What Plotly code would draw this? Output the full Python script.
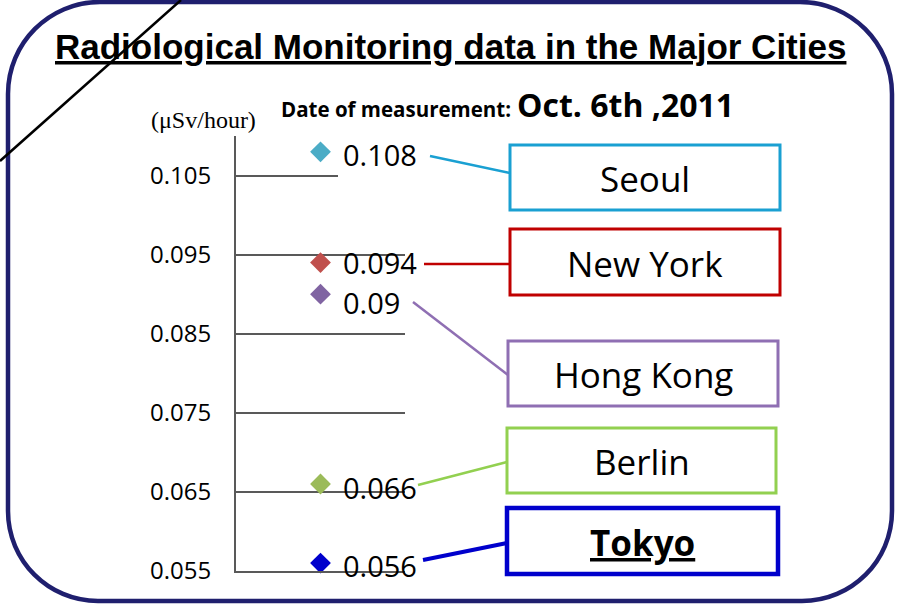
import plotly.graph_objects as go

# data
cities = ["Seoul", "New York", "Hong Kong", "Berlin", "Tokyo"]
dose_rates = [0.108, 0.094, 0.09, 0.066, 0.056]
value_labels = ["0.108", "0.094", "0.09", "0.066", "0.056"]
tick_vals = [0.055, 0.065, 0.075, 0.085, 0.095, 0.105]
tick_text = ["0.055", "0.065", "0.075", "0.085", "0.095", "0.105"]

marker_colors = ["#4BACC6", "#C0504D", "#8064A2", "#9BBB59", "#0000CC"]
box_colors = ["#1AA0D2", "#C00000", "#8F6FB3", "#92D050", "#0000CC"]

W, H = 899, 604
L, T, PW, PH = 236, 136, 169, 435


def px(x):
    return (x - L) / PW


def py(y):
    return (T + PH - y) / PH


fig = go.Figure()

fig.add_trace(go.Scatter(
    x=[1] * len(cities),
    y=dose_rates,
    mode="markers",
    marker=dict(symbol="diamond", size=16, color=marker_colors),
    cliponaxis=False,
    showlegend=False,
    hoverinfo="skip",
))

shapes = []
annotations = []

# value labels next to markers
label_yshift = [-3, 0, -8, -3, -2]
for v, lab, ys in zip(dose_rates, value_labels, label_yshift):
    annotations.append(dict(
        x=1, y=v, xref="x", yref="y", text=lab, showarrow=False,
        xanchor="left", yanchor="middle", xshift=20, yshift=ys,
        font=dict(family="Open Sans", size=29, color="black"),
    ))

# city boxes + connectors (pixel layout)
boxes = [(510, 145, 780, 210), (510, 229, 780, 295), (508, 341, 778, 406),
         (507, 428, 776, 493), (507, 508, 778, 574)]
connectors = [(430, 156, 510, 173), (424, 264, 510, 264), (413, 302, 508, 375),
              (418, 485, 507, 462), (423, 560, 507, 543)]
for i, city in enumerate(cities):
    x0, y0, x1, y1 = boxes[i]
    lw = 4.5 if city == "Tokyo" else 3
    shapes.append(dict(type="rect", xref="paper", yref="paper",
                       x0=px(x0), x1=px(x1), y0=py(y1), y1=py(y0),
                       line=dict(color=box_colors[i], width=lw), fillcolor="white"))
    cx0, cy0, cx1, cy1 = connectors[i]
    shapes.append(dict(type="line", xref="paper", yref="paper",
                       x0=px(cx0), y0=py(cy0), x1=px(cx1), y1=py(cy1),
                       line=dict(color=box_colors[i], width=4 if city == "Tokyo" else 2.5)))
    txt = "<b><u>%s</u></b>" % city if city == "Tokyo" else city
    annotations.append(dict(
        x=px((x0 + x1) / 2), y=py((y0 + y1) / 2 + 1), xref="paper", yref="paper",
        text=txt, showarrow=False, xanchor="center", yanchor="middle",
        font=dict(family="Open Sans", size=35, color="black"),
    ))

# gap in the top grid line
shapes.append(dict(type="rect", xref="paper", yref="y", layer="above",
                   x0=px(338), x1=px(408), y0=0.1045, y1=0.1055,
                   line=dict(width=0), fillcolor="white"))


# rounded outer frame
def corner_path():
    k = 0.5523
    l, t, r, b = 8, 2, 892, 601
    rt, rb = 92, 90
    pts = [
        ("M", [(l + rt, t)]),
        ("L", [(r - rt, t)]),
        ("C", [(r - rt + rt * k, t), (r, t + rt - rt * k), (r, t + rt)]),
        ("L", [(r, b - rb)]),
        ("C", [(r, b - rb + rb * k), (r - rb + rb * k, b), (r - rb, b)]),
        ("L", [(l + rb, b)]),
        ("C", [(l + rb - rb * k, b), (l, b - rb + rb * k), (l, b - rb)]),
        ("L", [(l, t + rt)]),
        ("C", [(l, t + rt - rt * k), (l + rt - rt * k, t), (l + rt, t)]),
    ]
    s = ""
    for cmd, ps in pts:
        s += cmd + " " + " ".join("%.5f,%.5f" % (px(a), py(b_)) for a, b_ in ps) + " "
    return s + "Z"


shapes.append(dict(type="path", xref="paper", yref="paper", path=corner_path(),
                   line=dict(color="#1F1F6E", width=4.5), layer="above"))

# stray diagonal line
shapes.append(dict(type="line", xref="paper", yref="paper", layer="above",
                   x0=px(0), y0=py(161), x1=px(181), y1=py(0),
                   line=dict(color="black", width=2.5)))

annotations += [
    dict(x=px(450), y=py(47), xref="paper", yref="paper",
         text="<b><u>Radiological Monitoring data in the Major Cities</u></b>",
         showarrow=False, xanchor="center", yanchor="middle",
         font=dict(family="Liberation Sans", size=35, color="black")),
    dict(x=px(279), y=py(109), xref="paper", yref="paper",
         text="<b>Date of measurement:</b>", showarrow=False,
         xanchor="left", yanchor="middle",
         font=dict(family="Open Sans", size=20.5, color="black")),
    dict(x=px(515), y=py(105), xref="paper", yref="paper",
         text="<b>Oct. 6th ,2011</b>", showarrow=False,
         xanchor="left", yanchor="middle",
         font=dict(family="Open Sans", size=32, color="black")),
    dict(x=px(203), y=py(120), xref="paper", yref="paper",
         text="(μSv/hour)", showarrow=False,
         xanchor="center", yanchor="middle",
         font=dict(family="Liberation Serif", size=24, color="black")),
]

fig.update_layout(
    width=W, height=H,
    margin=dict(l=L, r=W - L - PW, t=T, b=H - T - PH, pad=0),
    paper_bgcolor="white", plot_bgcolor="white",
    shapes=shapes, annotations=annotations,
    xaxis=dict(range=[0, 2], showline=True, linecolor="#595959", linewidth=1.5,
               showgrid=False, showticklabels=False, ticks="", zeroline=False,
               fixedrange=True),
    yaxis=dict(range=[0.055, 0.11], tickvals=tick_vals, ticktext=tick_text,
               showgrid=True, gridcolor="#595959", gridwidth=1.5,
               showline=True, linecolor="#595959", linewidth=2,
               ticks="", ticklabelstandoff=18, zeroline=False,
               tickfont=dict(family="Open Sans", size=24, color="black")),
)

fig.write_html("out.html", config={"displayModeBar": False},
               post_script="document.body.style.margin='0';")
